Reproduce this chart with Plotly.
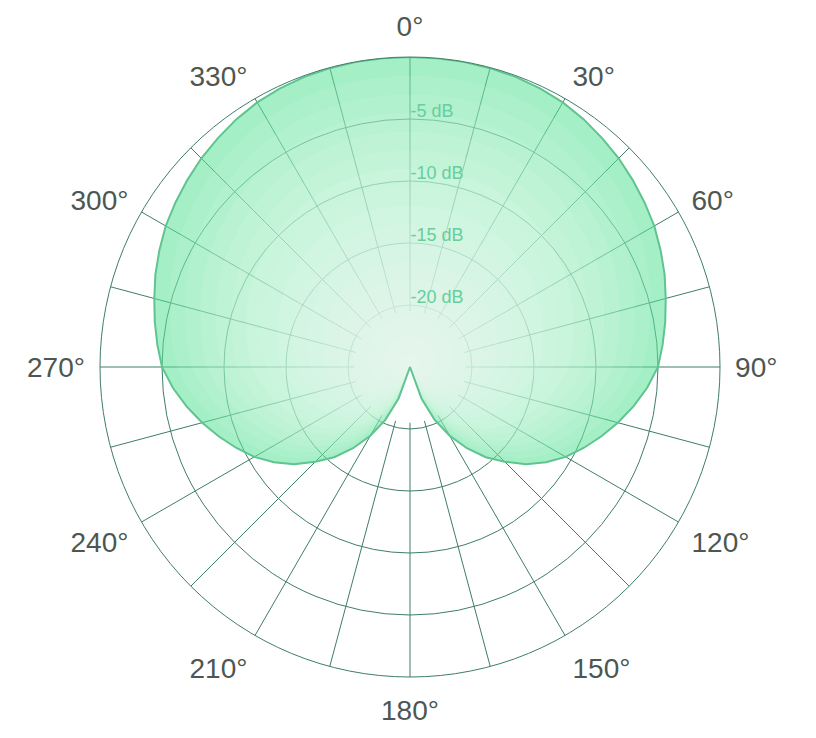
import plotly.graph_objects as go

# polar response, dB relative to on-axis (0 deg)
angles = list(range(0, 360, 5))
level_db = [
    0, 0, 0, -0.05, -0.1, -0.2, -0.36, -0.6, -0.9, -1.2, -1.55, -1.9,
    -2.25, -2.7, -3.15, -3.65, -4.1, -4.55, -5.0, -5.8, -6.7, -7.65, -8.6, -9.55,
    -10.5, -11.6, -12.8, -14.2, -15.5, -17.0, -18.6, -20.3, -22.3, -25, -25, -25,
    -25, -25, -25, -25, -22.3, -20.3, -18.6, -17.0, -15.5, -14.2, -12.8, -11.6,
    -10.5, -9.55, -8.6, -7.65, -6.7, -5.8, -5.0, -4.55, -4.1, -3.65, -3.15, -2.7,
    -2.25, -1.9, -1.55, -1.2, -0.9, -0.6, -0.36, -0.2, -0.1, -0.05, 0, 0,
]

grid_angles = list(range(0, 360, 15))
angle_labels = ['%d°' % a if a % 30 == 0 else '' for a in grid_angles]
db_ticks = [-20, -15, -10, -5]
db_labels = ['-20 dB', '-15 dB', '-10 dB', '-5 dB']

DB_MIN = -25
CENTER_GAP = -20.5    # grid spokes stop here
LABEL_LIFT = 0.65     # labels sit a little above their ring

grid_color = '#3f7d69'
line_green = '#5fc490'
fill_green = 'rgba(90,225,150,0.55)'
font_family = 'Liberation Sans, Arial, sans-serif'
full = dict(x=[0, 1], y=[0, 1])

traces = []

# white disc hiding the spokes near the centre
traces.append(go.Scatterpolar(
    r=[CENTER_GAP] * len(angles), theta=angles, mode='lines', fill='toself',
    fillcolor='white', line=dict(width=0), hoverinfo='skip', showlegend=False,
))

# main lobe
traces.append(go.Scatterpolar(
    r=level_db, theta=angles, mode='lines', fill='toself',
    fillcolor=fill_green, line=dict(width=0), hoverinfo='skip', showlegend=False,
))

# soft white glow towards the centre
for i in range(16):
    k = 0.94 - 0.06 * i
    traces.append(go.Scatterpolar(
        r=[DB_MIN + k * (v - DB_MIN) for v in level_db], theta=angles,
        mode='lines', fill='toself', fillcolor='rgba(255,255,255,0.085)',
        line=dict(width=0), hoverinfo='skip', showlegend=False,
    ))

# outline
traces.append(go.Scatterpolar(
    r=level_db + level_db[:1], theta=angles + angles[:1], mode='lines',
    line=dict(color=line_green, width=2), hoverinfo='skip', showlegend=False,
))

# empty trace so the label overlay exists
traces.append(go.Scatterpolar(r=[], theta=[], subplot='polar2', showlegend=False))

fig = go.Figure(data=traces)
fig.update_layout(
    width=816,
    height=738,
    margin=dict(l=92, r=104, t=49, b=69),
    paper_bgcolor='white',
    font=dict(family=font_family),
    polar=dict(
        domain=full,
        bgcolor='white',
        angularaxis=dict(
            rotation=90,
            direction='clockwise',
            tickmode='array',
            tickvals=grid_angles,
            ticktext=angle_labels,
            ticks='outside',
            ticklen=9,
            tickcolor='rgba(0,0,0,0)',
            showline=True,
            linecolor=grid_color,
            linewidth=1,
            gridcolor=grid_color,
            gridwidth=1,
            tickfont=dict(size=28, color='#4d5752'),
        ),
        radialaxis=dict(
            range=[DB_MIN, 0],
            angle=90,
            tickvals=db_ticks,
            showticklabels=False,
            showline=False,
            ticks='',
            gridcolor=grid_color,
            gridwidth=1,
        ),
    ),
    polar2=dict(
        domain=full,
        bgcolor='rgba(0,0,0,0)',
        angularaxis=dict(visible=False, rotation=90, direction='clockwise'),
        radialaxis=dict(
            range=[DB_MIN, 0],
            angle=90,
            tickangle=90,
            tickmode='array',
            tickvals=[t + LABEL_LIFT for t in db_ticks],
            ticktext=db_labels,
            showgrid=False,
            showline=False,
            ticks='',
            tickfont=dict(size=18, color='#66cf9c'),
        ),
    ),
)

fig.write_html("out.html")
